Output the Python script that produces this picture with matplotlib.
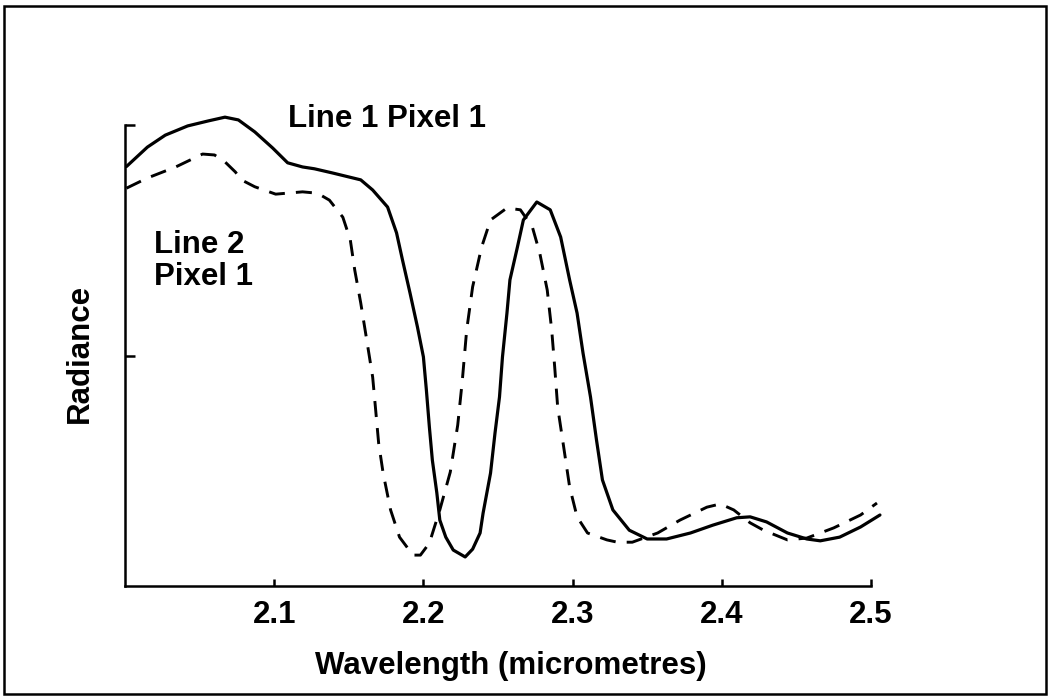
import matplotlib
matplotlib.use("Agg")
import matplotlib.pyplot as plt
from matplotlib.patches import Rectangle

# ---- data ----
line1_x = [2.001, 2.015, 2.027, 2.042, 2.056, 2.067, 2.076, 2.087, 2.099, 2.109,
           2.119, 2.127, 2.139, 2.158, 2.166, 2.176, 2.182, 2.186, 2.191, 2.196,
           2.200, 2.202, 2.204, 2.206, 2.209, 2.211, 2.215, 2.220, 2.228, 2.233,
           2.238, 2.240, 2.245, 2.248, 2.251, 2.253, 2.256, 2.258, 2.263, 2.267,
           2.276, 2.285, 2.292, 2.298, 2.303, 2.307, 2.312, 2.316, 2.320, 2.327,
           2.338, 2.350, 2.363, 2.379, 2.394, 2.410, 2.419, 2.430, 2.444, 2.457,
           2.466, 2.479, 2.493, 2.506]
line1_y = [0.910, 0.952, 0.978, 0.998, 1.009, 1.017, 1.011, 0.985, 0.950, 0.918,
           0.909, 0.905, 0.896, 0.881, 0.859, 0.822, 0.766, 0.707, 0.636, 0.562,
           0.497, 0.425, 0.345, 0.273, 0.202, 0.143, 0.106, 0.078, 0.063, 0.080,
           0.115, 0.158, 0.245, 0.332, 0.410, 0.497, 0.592, 0.664, 0.735, 0.794,
           0.833, 0.816, 0.757, 0.664, 0.592, 0.505, 0.410, 0.317, 0.230, 0.165,
           0.121, 0.102, 0.102, 0.115, 0.132, 0.148, 0.150, 0.139, 0.115, 0.102,
           0.098, 0.106, 0.128, 0.154]

line2_x = [2.001, 2.015, 2.034, 2.052, 2.060, 2.067, 2.074, 2.078, 2.087, 2.101,
           2.119, 2.129, 2.137, 2.146, 2.151, 2.154, 2.158, 2.162, 2.166, 2.168,
           2.170, 2.173, 2.178, 2.184, 2.193, 2.198, 2.204, 2.211, 2.218, 2.223,
           2.226, 2.229, 2.233, 2.239, 2.245, 2.256, 2.265, 2.273, 2.278, 2.283,
           2.286, 2.288, 2.290, 2.294, 2.298, 2.303, 2.310, 2.323, 2.330, 2.340,
           2.357, 2.372, 2.390, 2.399, 2.408, 2.419, 2.428, 2.444, 2.457, 2.475,
           2.493, 2.504]
line2_y = [0.863, 0.885, 0.909, 0.937, 0.935, 0.920, 0.898, 0.881, 0.866, 0.850,
           0.855, 0.852, 0.837, 0.800, 0.751, 0.685, 0.614, 0.534, 0.453, 0.382,
           0.310, 0.245, 0.165, 0.106, 0.067, 0.067, 0.093, 0.165, 0.247, 0.349,
           0.443, 0.555, 0.649, 0.735, 0.794, 0.820, 0.816, 0.779, 0.722, 0.642,
           0.555, 0.475, 0.388, 0.302, 0.215, 0.150, 0.115, 0.100, 0.095, 0.095,
           0.115, 0.143, 0.171, 0.178, 0.165, 0.137, 0.121, 0.100, 0.104, 0.126,
           0.154, 0.180]

x_ticks = [2.1, 2.2, 2.3, 2.4, 2.5]
x_ticklabels = ["2.1", "2.2", "2.3", "2.4", "2.5"]
y_ticks = [0.5, 1.0]

W, H = 1052, 698
plt.rcParams['font.family'] = ['Liberation Sans', 'DejaVu Sans']
FS = 22.5
FW = 'bold'
fig = plt.figure(figsize=(W / 100, H / 100), dpi=100)
fig.patch.set_facecolor('white')

# outer frame
fig.patches.append(Rectangle((4 / W, 4 / H), (1046 - 4) / W, (692 - 4) / H,
                             transform=fig.transFigure, fill=False,
                             edgecolor='black', linewidth=1.8))

ax = fig.add_axes([125 / W, 1 - 586 / H, (871 - 125) / W, (586 - 125) / H])
ax.set_xlim(2.0, 2.5)
ax.set_ylim(0.0, 1.0)

ax.plot(line1_x, line1_y, color='black', lw=2.3, solid_joinstyle='round',
        solid_capstyle='round', clip_on=False)
ax.plot(line2_x, line2_y, color='black', lw=2.1, linestyle=(0, (5.5, 3.8)),
        clip_on=False)

for s in ['top', 'right']:
    ax.spines[s].set_visible(False)
for s in ['left', 'bottom']:
    ax.spines[s].set_linewidth(1.8)

ax.set_xticks(x_ticks)
ax.set_xticklabels(x_ticklabels, fontweight=FW)
ax.set_yticks(y_ticks)
ax.set_yticklabels([])
ax.tick_params(axis='x', direction='in', length=5, width=1.8, labelsize=FS, pad=10)
ax.tick_params(axis='y', direction='in', length=7, width=1.8)

ax.set_xlabel("Wavelength (micrometres)", fontsize=FS, fontweight=FW)
ax.xaxis.set_label_coords((511 - 125) / 746, (586 - 666) / 461)
ax.xaxis.label.set_va('center')
ax.set_ylabel("Radiance", fontsize=FS, fontweight=FW)
ax.yaxis.set_label_coords((80 - 125) / 746, (586 - 353) / 461)
ax.yaxis.label.set_va('center')

ax.text(2.109, (586 - 127) / 461, "Line 1 Pixel 1", fontsize=FS, fontweight=FW,
        ha='left', va='baseline')
ax.text(2.0195, (586 - 253) / 461, "Line 2", fontsize=FS, fontweight=FW,
        ha='left', va='baseline')
ax.text(2.0195, (586 - 285) / 461, "Pixel 1", fontsize=FS, fontweight=FW,
        ha='left', va='baseline')

fig.savefig("out.png", dpi=100, facecolor='white')
